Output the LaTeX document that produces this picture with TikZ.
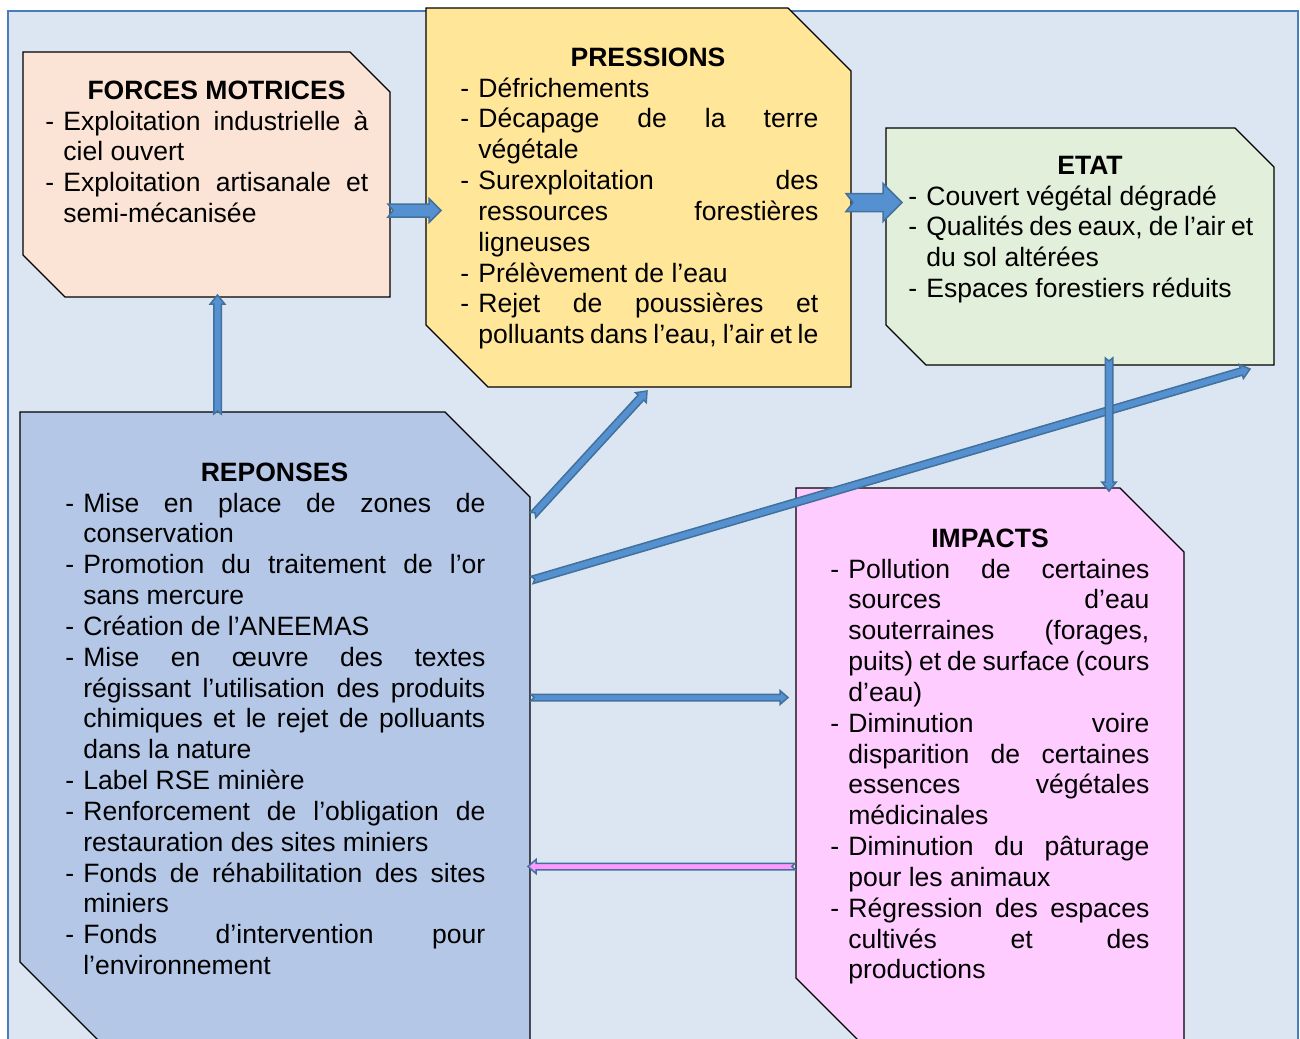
\documentclass[tikz,border=0pt]{standalone}
\usepackage{fontspec}
\setmainfont{Liberation Sans}
\usetikzlibrary{calc}

\definecolor{FondoDiagrama}{HTML}{DCE6F2}
\definecolor{BordeDiagrama}{HTML}{4A7EBB}
\definecolor{FilledForces}{HTML}{FBE4D5}
\definecolor{FilledPressions}{HTML}{FFE699}
\definecolor{FilledEtat}{HTML}{E2EFDA}
\definecolor{FilledReponses}{HTML}{B4C7E7}
\definecolor{FilledImpacts}{HTML}{FFCCFF}
\definecolor{ArrowFill}{HTML}{5590D0}
\definecolor{ArrowLine}{HTML}{41719C}
\definecolor{ArrowPink}{HTML}{FF99FF}

\tolerance=10000
\hbadness=10000
\hyphenpenalty=10000
\exhyphenpenalty=10000

\newcommand{\cajafuente}{\fontsize{15.1pt}{17.55pt}\selectfont}
\newcommand{\itm}{\hangindent=3.6mm\hangafter=1\noindent\makebox[3.6mm][l]{-}}

% Flecha de bloque: [relleno]{cola}{punta}{semiancho}{semiancho punta}{largo punta}{muesca}
\newcommand{\flecha}[7][ArrowFill]{%
  \coordinate (cabeza) at ($(#3)!#6!(#2)$);
  \filldraw[arrowshape, fill=#1]
    ($(#2)!#4!90:(#3)$) -- ($(cabeza)!#4!-90:(#2)$) -- ($(cabeza)!#5!-90:(#2)$)
    -- (#3) -- ($(cabeza)!#5!90:(#2)$) -- ($(cabeza)!#4!90:(#2)$)
    -- ($(#2)!#4!-90:(#3)$) -- ($(#2)!#7!(#3)$) -- cycle;
}

\tikzset{
  boxshape/.style={draw=black, line width=0.25mm},
  boxtitle/.style={font=\cajafuente\bfseries, inner sep=0pt, anchor=base},
  boxtext/.style={font=\cajafuente, inner sep=0pt, anchor=base west, align=justify},
  arrowshape/.style={draw=ArrowLine, line width=0.3mm, line join=miter},
}

\begin{document}
\begin{tikzpicture}[x=0.2mm, y=-0.2mm]

\useasboundingbox (0,0) rectangle (1300,1039);
\clip (0,0) rectangle (1300,1039);

% Fondo
\fill[FondoDiagrama] (8,11) rectangle (1298,1060);
\draw[BordeDiagrama, line width=0.4mm] (8,11) rectangle (1298,1060);

% Colorear superficies
\filldraw[boxshape, fill=FilledForces]
  (23,52) -- (350,52) -- (390,92) -- (390,297) -- (65,297) -- (23,255) -- cycle;
\filldraw[boxshape, fill=FilledPressions]
  (426,8) -- (788,8) -- (851,71) -- (851,387) -- (488,387) -- (426,325) -- cycle;
\filldraw[boxshape, fill=FilledEtat]
  (886,128) -- (1235,128) -- (1274,167) -- (1274,365) -- (926,365) -- (886,325) -- cycle;
\filldraw[boxshape, fill=FilledReponses]
  (20,412) -- (445,412) -- (530,497) -- (530,1100) -- (158,1100) -- (20,962) -- cycle;
\filldraw[boxshape, fill=FilledImpacts]
  (796,488) -- (1120,488) -- (1184,552) -- (1184,1100) -- (918,1100) -- (796,978) -- cycle;

% Textos
\node[boxtitle] (forces) at (216.5,99) {FORCES MOTRICES};
\node[boxtext, text width=64.6mm] (forcestxt) at (45,130) {%
\itm Exploitation industrielle à\linebreak ciel ouvert\par
\itm Exploitation artisanale et\linebreak semi-mécanisée\par};

\node[boxtitle] (pressions) at (648,66) {PRESSIONS};
\node[boxtext, text width=71.6mm] (pressionstxt) at (460,97) {%
\itm Défrichements\par
\itm Décapage de la terre\linebreak végétale\par
\itm Surexploitation des\linebreak ressources forestières\linebreak ligneuses\par
\itm Prélèvement de l’eau\par
\itm Rejet de poussières et\linebreak polluants dans l’eau, l’air et le\parfillskip=0pt\par};

\node[boxtitle] (etat) at (1090,174) {ETAT};
\node[boxtext, text width=69mm] (etattxt) at (908,205) {%
\itm Couvert végétal dégradé\par
\itm Qualités des eaux, de l’air et\linebreak du sol altérées\par
\itm Espaces forestiers réduits\par};

\node[boxtitle] (reponses) at (274.5,481) {REPONSES};
\node[boxtext, text width=84mm] (reponsestxt) at (65,512) {%
\itm Mise en place de zones de\linebreak conservation\par
\itm Promotion du traitement de l’or\linebreak sans mercure\par
\itm Création de l’ANEEMAS\par
\itm Mise en œuvre des textes\linebreak régissant l’utilisation des produits\linebreak chimiques et le rejet de polluants\linebreak dans la nature\par
\itm Label RSE minière\par
\itm Renforcement de l’obligation de\linebreak restauration des sites miniers\par
\itm Fonds de réhabilitation des sites\linebreak miniers\par
\itm Fonds d’intervention pour\linebreak l’environnement\par};

\node[boxtitle] (impacts) at (990,547) {IMPACTS};
\node[boxtext, text width=63.8mm] (impactstxt) at (830,578) {%
\itm Pollution de certaines\linebreak sources d’eau\linebreak souterraines (forages,\linebreak puits) et de surface (cours\linebreak d’eau)\par
\itm Diminution voire\linebreak disparition de certaines\linebreak essences végétales\linebreak médicinales\par
\itm Diminution du pâturage\linebreak pour les animaux\par
\itm Régression des espaces\linebreak cultivés et des\linebreak productions\par};

% Extremos de las flechas
\coordinate (forces-e) at (388,210.5);
\coordinate (pressions-w) at (441,210.5);
\coordinate (pressions-e) at (846,202.5);
\coordinate (etat-w) at (902,202.5);
\coordinate (reponses-n) at (217.5,414);
\coordinate (forces-s) at (217.5,295);
\coordinate (reponses-ne) at (533,515);
\coordinate (pressions-s) at (647,391);
\coordinate (reponses-e) at (532,580);
\coordinate (etat-se) at (1250,369);
\coordinate (etat-s) at (1109,358);
\coordinate (impacts-n) at (1109,491);
\coordinate (reponses-e1) at (531,697.5);
\coordinate (impacts-w1) at (788,697.5);
\coordinate (impacts-w2) at (795,866.5);
\coordinate (reponses-e2) at (528,866.5);

% Flechas
\flecha{forces-e}{pressions-w}{1.3mm}{2.4mm}{2.4mm}{1mm}
\flecha{pressions-e}{etat-w}{1.8mm}{3.8mm}{3.8mm}{1.4mm}
\flecha{reponses-n}{forces-s}{0.75mm}{1.45mm}{1.8mm}{0.6mm}
\flecha{reponses-ne}{pressions-s}{0.75mm}{1.45mm}{1.8mm}{0.6mm}
\flecha{reponses-e}{etat-se}{0.75mm}{1.45mm}{1.8mm}{0.6mm}
\flecha{etat-s}{impacts-n}{0.75mm}{1.45mm}{1.8mm}{0.6mm}
\flecha{reponses-e1}{impacts-w1}{0.65mm}{1.4mm}{1.6mm}{0.6mm}
\flecha[ArrowPink]{impacts-w2}{reponses-e2}{0.65mm}{1.4mm}{1.6mm}{0.6mm}

\end{tikzpicture}
\end{document}
